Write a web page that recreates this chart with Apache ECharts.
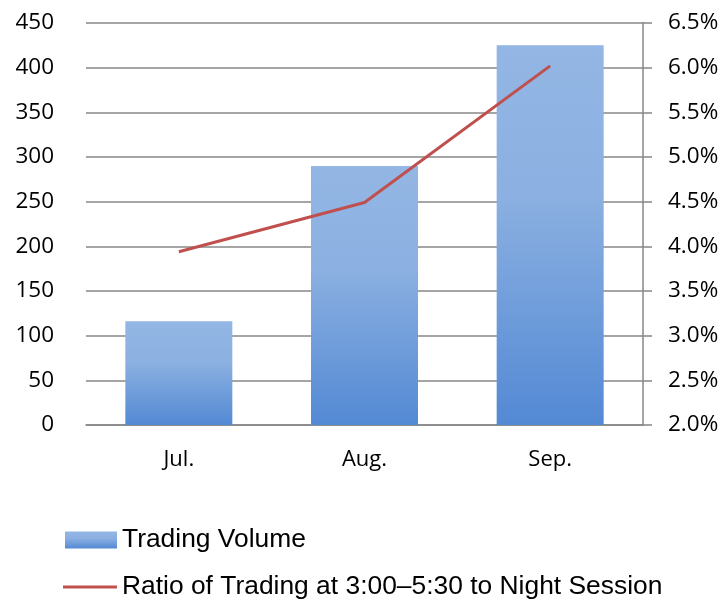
<!DOCTYPE html>
<html>
<head>
<meta charset="utf-8">
<script src="https://cdn.jsdelivr.net/npm/echarts@6/dist/echarts.min.js"></script>
<style>html,body{margin:0;padding:0;background:#fff;}#c{width:725px;height:604px;}</style>
</head>
<body>
<div id="c"></div>
<script>
var categories = ['Jul.', 'Aug.', 'Sep.'];
var tradingVolume = [116, 290, 425];
var ratioNight = [3.94, 4.49, 6.02];
var seriesNames = ['Trading Volume', 'Ratio of Trading at 3:00\u20135:30 to Night Session'];

var chart = echarts.init(document.getElementById('c'));
var gridColor = '#878787';
chart.setOption({
  animation: false,
  backgroundColor: '#fff',
  grid: {left: 86, right: 82, top: 23, bottom: 179},
  legend: [
    {
      data: [seriesNames[0]],
      left: 65, top: 527,
      itemWidth: 52, itemHeight: 17, itemGap: 0,
      textStyle: {fontFamily: 'Liberation Sans', fontSize: 26.4, color: '#000', padding: [0, 0, 0, 0]},
      icon: 'rect',
      padding: 0
    },
    {
      data: [seriesNames[1]],
      left: 63, top: 574,
      itemWidth: 54, itemHeight: 3,
      textStyle: {fontFamily: 'Liberation Sans', fontSize: 26.4, color: '#000', padding: [10, 0, 0, 0]},
      icon: 'rect',
      padding: 0
    }
  ],
  xAxis: {
    type: 'category',
    data: categories,
    axisLine: {show: true, lineStyle: {color: gridColor, width: 1.5}},
    axisTick: {show: false},
    axisLabel: {fontFamily: 'Open Sans', fontSize: 22, color: '#000', margin: 24}
  },
  yAxis: [
    {
      type: 'value', min: 0, max: 450, interval: 50,
      axisLine: {show: false},
      axisTick: {show: false},
      splitLine: {show: true, lineStyle: {color: gridColor, width: 1.5}},
      axisLabel: {fontFamily: 'Open Sans', fontSize: 22.5, color: '#000', margin: 32}
    },
    {
      type: 'value', min: 2, max: 6.5, interval: 0.5,
      position: 'right',
      axisLine: {show: true, lineStyle: {color: gridColor, width: 1.5}},
      axisTick: {show: true, length: 9, lineStyle: {color: gridColor, width: 1.5}},
      splitLine: {show: false},
      axisLabel: {fontFamily: 'Open Sans', fontSize: 22.5, color: '#000', margin: 25,
        formatter: function (v) { return v.toFixed(1) + '%'; }}
    }
  ],
  series: [
    {
      name: seriesNames[0],
      type: 'bar',
      yAxisIndex: 0,
      barWidth: 107,
      data: tradingVolume,
      itemStyle: {
        color: new echarts.graphic.LinearGradient(0, 0, 0, 1, [
          {offset: 0, color: '#93B6E4'},
          {offset: 0.4, color: '#8BB0E1'},
          {offset: 1, color: '#5389D4'}
        ])
      }
    },
    {
      name: seriesNames[1],
      type: 'line',
      yAxisIndex: 1,
      data: ratioNight,
      showSymbol: false,
      symbol: 'none',
      lineStyle: {color: '#C0504D', width: 3},
      itemStyle: {color: '#C0504D'}
    }
  ]
});
</script>
</body>
</html>
